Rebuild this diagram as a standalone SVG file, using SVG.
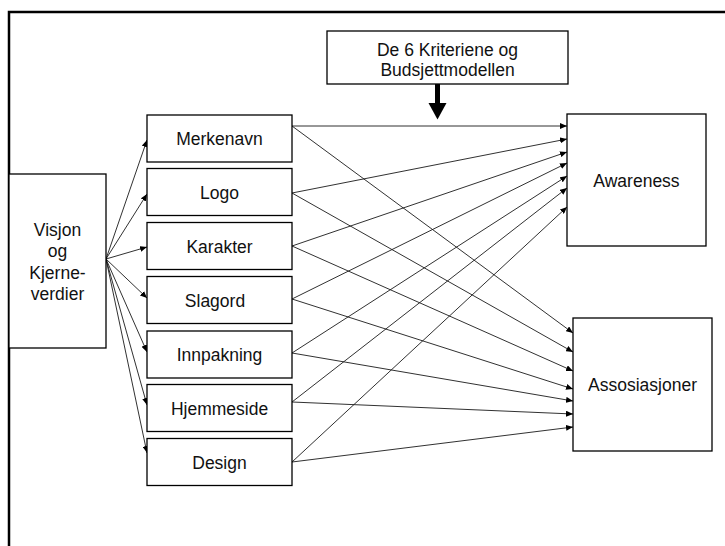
<svg xmlns="http://www.w3.org/2000/svg" width="725" height="546" viewBox="0 0 725 546">
<defs>
<style>
.box{fill:#fff;stroke:#000;stroke-width:1.3}
.t{font-family:"Liberation Sans",Arial,sans-serif;font-size:17.5px;fill:#111;text-anchor:middle}
.c{stroke:#1a1a1a;stroke-width:0.9;fill:none;marker-end:url(#ah)}
</style>
<marker id="ah" markerUnits="userSpaceOnUse" markerWidth="7" markerHeight="6" refX="7" refY="3" orient="auto">
<path d="M0,0 L7,3 L0,6 z" fill="#000"/>
</marker>
</defs>
<rect width="725" height="546" fill="#fff"/>
<path d="M9,546 V12 H725" fill="none" stroke="#000" stroke-width="2.5"/>

<g id="connectors">
<line class="c" x1="106" y1="259" x2="147" y2="140"/>
<line class="c" x1="106" y1="259" x2="147" y2="194"/>
<line class="c" x1="106" y1="259" x2="147" y2="247"/>
<line class="c" x1="106" y1="259" x2="147" y2="298"/>
<line class="c" x1="106" y1="259" x2="147" y2="352"/>
<line class="c" x1="106" y1="259" x2="147" y2="405"/>
<line class="c" x1="106" y1="259" x2="147" y2="453"/>

<line class="c" x1="292" y1="126" x2="567" y2="126"/>
<line class="c" x1="292" y1="193" x2="567" y2="139"/>
<line class="c" x1="292" y1="246" x2="567" y2="152"/>
<line class="c" x1="292" y1="299" x2="567" y2="163"/>
<line class="c" x1="292" y1="353" x2="567" y2="176"/>
<line class="c" x1="292" y1="402" x2="567" y2="188"/>
<line class="c" x1="292" y1="462" x2="567" y2="207"/>

<line class="c" x1="292" y1="126" x2="573" y2="333"/>
<line class="c" x1="292" y1="193" x2="573" y2="352"/>
<line class="c" x1="292" y1="246" x2="573" y2="371"/>
<line class="c" x1="292" y1="299" x2="573" y2="389"/>
<line class="c" x1="292" y1="353" x2="573" y2="401"/>
<line class="c" x1="292" y1="402" x2="573" y2="414"/>
<line class="c" x1="292" y1="462" x2="573" y2="427"/>

<rect x="435" y="84" width="5" height="20" fill="#000"/>
<polygon points="428.5,103 446.5,103 437.5,119.5" fill="#000"/>
</g>

<g id="kriterier">
<rect class="box" x="327" y="31" width="241" height="53"/>
<text class="t" x="447.5" y="55.5">De 6 Kriteriene og</text>
<text class="t" x="447.5" y="75.5">Budsjettmodellen</text>
</g>

<g id="visjon">
<rect class="box" x="9" y="174" width="97" height="174"/>
<text class="t" x="57.5" y="236">Visjon</text>
<text class="t" x="57.5" y="257.3">og</text>
<text class="t" x="57.5" y="278.6">Kjerne-</text>
<text class="t" x="57.5" y="300">verdier</text>
</g>

<g id="merkenavn">
<rect class="box" x="147" y="115" width="145" height="47"/>
<text class="t" x="219.5" y="145">Merkenavn</text>
</g>
<g id="logo">
<rect class="box" x="147" y="168.5" width="145" height="47"/>
<text class="t" x="219.5" y="198.5">Logo</text>
</g>
<g id="karakter">
<rect class="box" x="147" y="222.5" width="145" height="47"/>
<text class="t" x="219.5" y="252.5">Karakter</text>
</g>
<g id="slagord">
<rect class="box" x="147" y="276.5" width="145" height="47"/>
<text class="t" x="215" y="306.5">Slagord</text>
</g>
<g id="innpakning">
<rect class="box" x="147" y="331" width="145" height="47"/>
<text class="t" x="219.5" y="361">Innpakning</text>
</g>
<g id="hjemmeside">
<rect class="box" x="147" y="384.5" width="145" height="47"/>
<text class="t" x="219.5" y="414.5">Hjemmeside</text>
</g>
<g id="design">
<rect class="box" x="147" y="438.5" width="145" height="47"/>
<text class="t" x="219.5" y="468.5">Design</text>
</g>

<g id="awareness">
<rect class="box" x="567" y="114" width="139" height="132"/>
<text class="t" x="636.5" y="187">Awareness</text>
</g>
<g id="assosiasjoner">
<rect class="box" x="573" y="318" width="139" height="133"/>
<text class="t" x="642.5" y="390.5">Assosiasjoner</text>
</g>
</svg>
